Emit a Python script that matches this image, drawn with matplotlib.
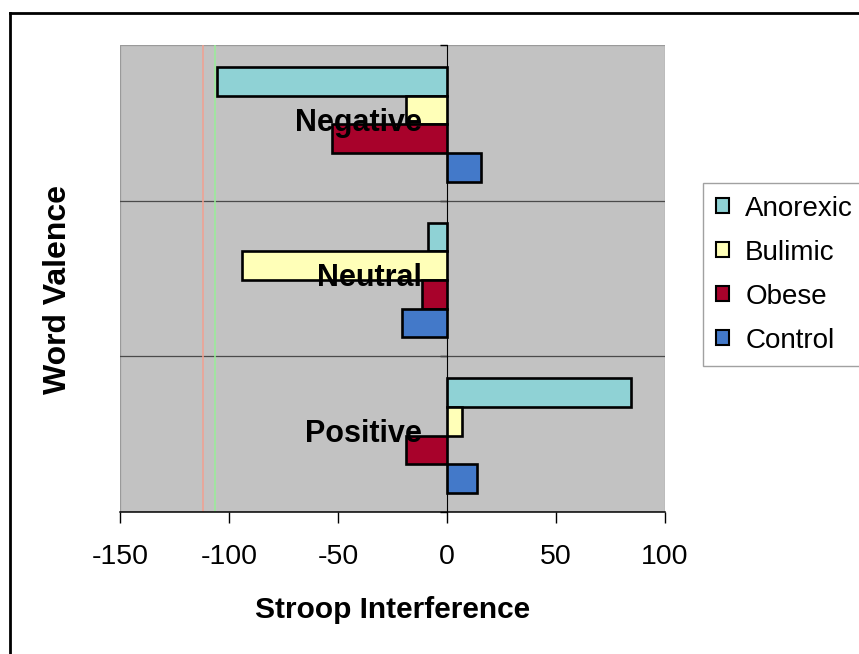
import matplotlib.pyplot as plt
from matplotlib.patches import Patch, Rectangle
from matplotlib.lines import Line2D
import numpy as np

plt.rcParams['font.family'] = ['Liberation Sans', 'DejaVu Sans']

# word valence categories, drawn top to bottom
valence = ['Negative', 'Neutral', 'Positive']
groups = ['Anorexic', 'Bulimic', 'Obese', 'Control']

# Stroop interference per group, one list per valence
negative = [-105.6, -19.0, -52.7, 15.6]
neutral = [-8.6, -94.0, -11.3, -20.8]
positive = [84.2, 6.7, -19.0, 13.6]

colors = ['#8FD2D5', '#FFFFB8', '#A8022B', '#4379C9']

fig = plt.figure(figsize=(8.59, 6.54), dpi=100, facecolor='white')
ax = fig.add_axes([120 / 859, 1 - 512 / 654, 545 / 859, 467 / 654])
ax.set_facecolor('#C2C2C2')

bar_h = 0.184
values = [negative, neutral, positive]
centers = [2.5, 1.5, 0.5]
for gi, g in enumerate(groups):
    offset = (1.5 - gi) * bar_h - 0.01
    vals = [v[gi] for v in values]
    ax.barh([c + offset for c in centers], vals, height=bar_h,
            color=colors[gi], edgecolor='black', linewidth=1.9, zorder=3)

# category labels sit next to the zero axis
for name, c in zip(valence, centers):
    ax.annotate(name, xy=(0, c), xytext=(-18, 0), textcoords='offset points',
                ha='right', va='center', fontsize=22, fontweight='bold', zorder=5)

ax.set_xlim(-150, 100)
ax.set_ylim(0, 3)
ax.set_xticks([-150, -100, -50, 0, 50, 100])
ax.set_xticklabels(['-150', '-100', '-50', '0', '50', '100'])
ax.tick_params(axis='x', direction='out', length=8, width=1, labelsize=20.5, pad=15)

# value axis crosses at zero
ax.spines['left'].set_position(('data', 0))
ax.spines['left'].set_zorder(4)
ax.set_yticks([0, 1, 2, 3])
ax.set_yticklabels([])
ax.tick_params(axis='y', direction='out', length=5, width=1)
ax.spines['top'].set_visible(False)
ax.spines['right'].set_visible(False)
ax.spines['bottom'].set_linewidth(1.1)
ax.add_patch(Rectangle((0, 0), 1, 1, transform=ax.transAxes, fill=False,
                       edgecolor='#9A9A9A', linewidth=0.9, zorder=1))
for y in [1, 2]:
    ax.axhline(y, color='#4A4A4A', linewidth=0.9, zorder=2)

# faint colored streaks
ax.axvline(-112.0, color='#F2A090', linewidth=1.1, zorder=2)
ax.axvline(-106.4, color='#98EE98', linewidth=1.1, zorder=2)

ax.set_xlabel('Stroop Interference', fontsize=21.5, fontweight='bold', labelpad=19)
fig.text(58 / 859, 1 - 289 / 654, 'Word Valence', rotation=90, fontsize=23,
         fontweight='bold', ha='center', va='center')

handles = [Patch(facecolor=c, edgecolor='black', linewidth=1.5) for c in colors]
leg = fig.legend(handles, groups, loc='upper left',
                 bbox_to_anchor=(703 / 859, 1 - 183 / 654), fontsize=20,
                 frameon=True, fancybox=False, handlelength=0.47, handleheight=0.47,
                 handletextpad=0.6, labelspacing=0.65, borderpad=0.45,
                 borderaxespad=0)
leg.get_frame().set_edgecolor('#8A8A8A')
leg.get_frame().set_linewidth(1.0)

# outer frame
fig.add_artist(Line2D([10 / 859, 10 / 859], [0, 1 - 13 / 654], color='black', linewidth=2))
fig.add_artist(Line2D([10 / 859, 1], [1 - 13 / 654, 1 - 13 / 654], color='black', linewidth=2))

fig.savefig('out.png', dpi=100)
